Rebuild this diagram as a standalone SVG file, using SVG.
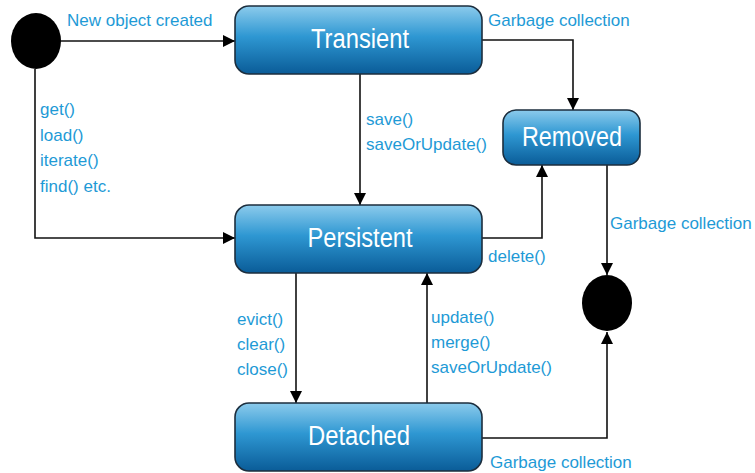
<svg xmlns="http://www.w3.org/2000/svg" width="755" height="473" viewBox="0 0 755 473">
<defs>
<linearGradient id="g" x1="0" y1="0" x2="0" y2="1">
<stop offset="0" stop-color="#8ccbec"/>
<stop offset="0.45" stop-color="#2e97d2"/>
<stop offset="1" stop-color="#0a5c98"/>
</linearGradient>
<marker id="ah" markerWidth="12" markerHeight="12" refX="12" refY="6" orient="auto" markerUnits="userSpaceOnUse">
<path d="M0,0 L12,6 L0,12 Z" fill="#000"/>
</marker>
</defs>
<style>
.box{fill:url(#g);stroke:#1c2e3e;stroke-width:1.6}
.bt{font-family:"Liberation Sans",Arial,sans-serif;font-size:27px;fill:#fff;text-anchor:middle}
.lb{font-family:"Liberation Sans",Arial,sans-serif;font-size:17px;fill:#1e9ad6}
.ln{fill:none;stroke:#111;stroke-width:1.6;marker-end:url(#ah)}
</style>
<rect width="755" height="473" fill="#fff"/>
<g id="connectors">
<path class="ln" d="M61,41 L235,41"/>
<path class="ln" d="M35,69 L35,238 L235,238"/>
<path class="ln" d="M482,40 L573,40 L573,110"/>
<path class="ln" d="M360,74 L360,205"/>
<path class="ln" d="M482,238 L542,238 L542,165"/>
<path class="ln" d="M607,165 L607,275"/>
<path class="ln" d="M296,273 L296,403"/>
<path class="ln" d="M427,403 L427,273"/>
<path class="ln" d="M482,438 L607,438 L607,332"/>
<text class="lb" x="67" y="26">New object created</text>
<text class="lb" x="488" y="26">Garbage collection</text>
<text class="lb" x="40" y="115">get()</text>
<text class="lb" x="40" y="141">load()</text>
<text class="lb" x="40" y="166">iterate()</text>
<text class="lb" x="40" y="192">find() etc.</text>
<text class="lb" x="366" y="125">save()</text>
<text class="lb" x="366" y="150">saveOrUpdate()</text>
<text class="lb" x="488" y="262">delete()</text>
<text class="lb" x="610" y="229">Garbage collection</text>
<text class="lb" x="237" y="325">evict()</text>
<text class="lb" x="237" y="350">clear()</text>
<text class="lb" x="237" y="375">close()</text>
<text class="lb" x="431" y="323">update()</text>
<text class="lb" x="431" y="348">merge()</text>
<text class="lb" x="431" y="373">saveOrUpdate()</text>
<text class="lb" x="490" y="468">Garbage collection</text>
</g>
<g id="start"><ellipse cx="36" cy="41" rx="25" ry="28" fill="#000"/></g>
<g id="end"><ellipse cx="607" cy="303" rx="25" ry="28" fill="#000"/></g>
<g id="transient"><rect class="box" x="235" y="6" width="247" height="68" rx="14"/><text class="bt" x="360" y="48" textLength="98" lengthAdjust="spacingAndGlyphs">Transient</text></g>
<g id="removed"><rect class="box" x="503" y="110" width="137" height="55" rx="13"/><text class="bt" x="572" y="146" textLength="100" lengthAdjust="spacingAndGlyphs">Removed</text></g>
<g id="persistent"><rect class="box" x="235" y="205" width="247" height="68" rx="14"/><text class="bt" x="360" y="247" textLength="105" lengthAdjust="spacingAndGlyphs">Persistent</text></g>
<g id="detached"><rect class="box" x="235" y="403" width="247" height="68" rx="14"/><text class="bt" x="359" y="445" textLength="102" lengthAdjust="spacingAndGlyphs">Detached</text></g>
</svg>
